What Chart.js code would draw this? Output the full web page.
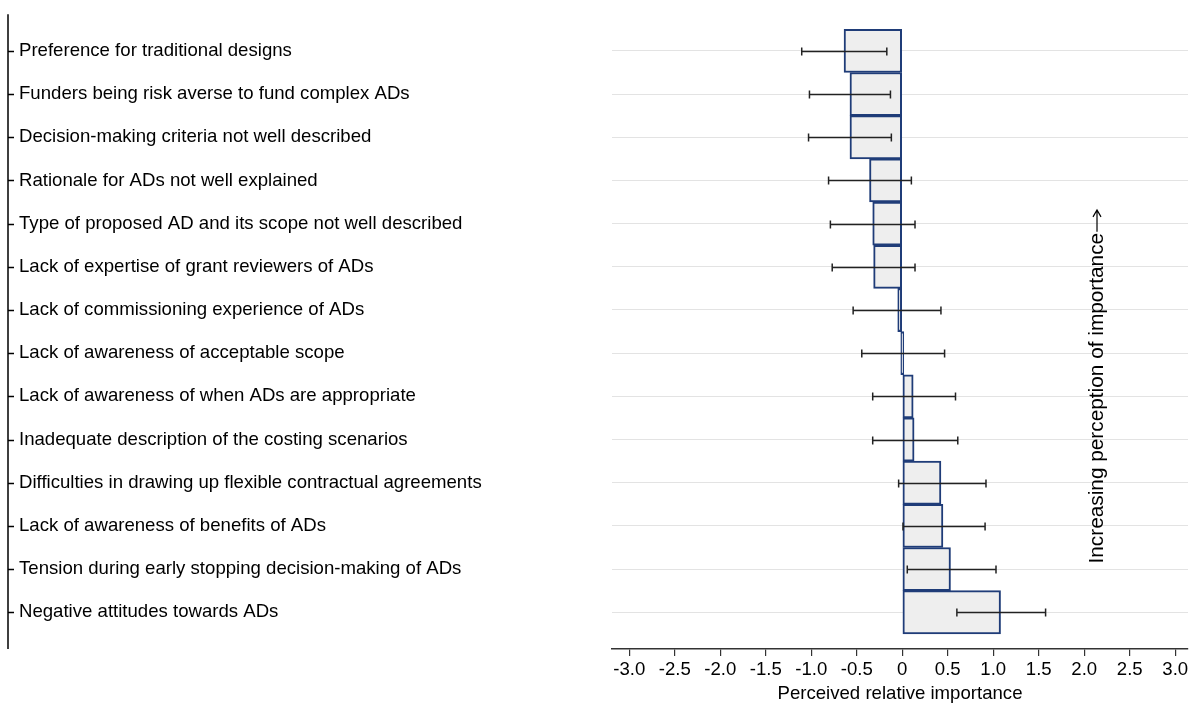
<!DOCTYPE html>
<html>
<head>
<meta charset="utf-8">
<script src="https://cdn.jsdelivr.net/npm/chart.js@4/dist/chart.umd.min.js"></script>
<style>
  html, body { margin: 0; padding: 0; background: #fff; }
</style>
</head>
<body>
<canvas id="barriersChart" width="1192" height="707"></canvas>
<script>
const barriers = [
    'Preference for traditional designs',
    'Funders being risk averse to fund complex ADs',
    'Decision-making criteria not well described',
    'Rationale for ADs not well explained',
    'Type of proposed AD and its scope not well described',
    'Lack of expertise of grant reviewers of ADs',
    'Lack of commissioning experience of ADs',
    'Lack of awareness of acceptable scope',
    'Lack of awareness of when ADs are appropriate',
    'Inadequate description of the costing scenarios',
    'Difficulties in drawing up flexible contractual agreements',
    'Lack of awareness of benefits of ADs',
    'Tension during early stopping decision-making of ADs',
    'Negative attitudes towards ADs'
];
const importance = [-0.64, -0.575, -0.575, -0.36, -0.325, -0.315, -0.05, 0, 0.12, 0.13, 0.425, 0.447, 0.53, 1.08];
const ciLower = [-1.105, -1.02, -1.03, -0.81, -0.79, -0.77, -0.54, -0.445, -0.325, -0.325, -0.04, 0.008, 0.055, 0.6];
const ciUpper = [-0.17, -0.13, -0.12, 0.10, 0.14, 0.14, 0.425, 0.465, 0.585, 0.61, 0.92, 0.91, 1.03, 1.575];
const xTicks = [-3, -2.5, -2, -1.5, -1, -0.5, 0, 0.5, 1, 1.5, 2, 2.5, 3];

const FONT = "'Liberation Sans', Arial, sans-serif";

// confidence interval whiskers
const errorBars = {
    id: 'errorBars',
    afterDatasetsDraw(chart) {
        const { ctx, scales: { x, y } } = chart;
        ctx.save();
        ctx.strokeStyle = '#222';
        ctx.lineWidth = 1.5;
        importance.forEach((_, i) => {
            const py = Math.round(y.getPixelForValue(i + 1)) + 0.5;
            const x1 = x.getPixelForValue(ciLower[i]);
            const x2 = x.getPixelForValue(ciUpper[i]);
            ctx.beginPath();
            ctx.moveTo(x1, py); ctx.lineTo(x2, py);
            ctx.moveTo(x1, py - 4); ctx.lineTo(x1, py + 4);
            ctx.moveTo(x2, py - 4); ctx.lineTo(x2, py + 4);
            ctx.stroke();
        });
        ctx.restore();
    }
};

// left axis line with ticks, sitting before the category labels
const leftAxis = {
    id: 'leftAxis',
    afterDraw(chart) {
        const { ctx, scales: { y } } = chart;
        const ax = y.left - 11;
        ctx.save();
        ctx.strokeStyle = '#000';
        ctx.lineWidth = 1.5;
        ctx.beginPath();
        ctx.moveTo(ax, y.top);
        ctx.lineTo(ax, y.bottom);
        y.ticks.forEach(t => {
            const py = Math.round(y.getPixelForValue(t.value)) + 0.5;
            ctx.moveTo(ax, py);
            ctx.lineTo(ax + 6, py);
        });
        ctx.stroke();
        ctx.restore();
    }
};

// rotated note with an arrow pointing upwards
const directionNote = {
    id: 'directionNote',
    afterDraw(chart) {
        const { ctx, scales: { x, y } } = chart;
        const px = x.getPixelForValue(2.14);
        const py = y.getPixelForValue(12.87);
        const text = 'Increasing perception of importance';
        ctx.save();
        ctx.translate(px, py);
        ctx.rotate(-Math.PI / 2);
        ctx.font = `20.8px ${FONT}`;
        ctx.fillStyle = '#000';
        ctx.textAlign = 'left';
        ctx.textBaseline = 'middle';
        ctx.fillText(text, 0, 0);
        const w = ctx.measureText(text).width;
        ctx.strokeStyle = '#000';
        ctx.lineWidth = 1.2;
        ctx.beginPath();
        ctx.moveTo(w + 1, 0);
        ctx.lineTo(w + 23, 0);
        ctx.moveTo(w + 16, -4);
        ctx.lineTo(w + 23, 0);
        ctx.lineTo(w + 16, 4);
        ctx.stroke();
        ctx.restore();
    }
};

new Chart(document.getElementById('barriersChart'), {
    type: 'bar',
    data: {
        datasets: [{
            data: importance.map((v, i) => ({ x: v, y: i + 1 })),
            backgroundColor: '#eeeeee',
            borderColor: '#1f3c78',
            borderWidth: 2,
            borderSkipped: false,
            minBarLength: 3,
            barPercentage: 1,
            categoryPercentage: 1
        }]
    },
    options: {
        indexAxis: 'y',
        responsive: false,
        animation: false,
        layout: { padding: { left: 19, right: 4, top: 12, bottom: 0 } },
        plugins: {
            legend: { display: false },
            tooltip: { enabled: false }
        },
        scales: {
            x: {
                type: 'linear',
                min: -3.19,
                max: 3.14,
                afterBuildTicks: scale => { scale.ticks = xTicks.map(v => ({ value: v })); },
                afterFit: scale => { scale.height = 58; },
                ticks: {
                    autoSkip: false,
                    maxRotation: 0,
                    padding: 3,
                    color: '#000',
                    font: { family: FONT, size: 18.6 },
                    callback: v => v === 0 ? '0' : v.toFixed(1)
                },
                grid: { drawOnChartArea: false, drawTicks: true, tickLength: 7, color: '#333', lineWidth: 1.2 },
                border: { display: true, color: '#333', width: 1.5 },
                title: {
                    display: true,
                    text: 'Perceived relative importance',
                    color: '#000',
                    font: { family: FONT, size: 18.6 },
                    padding: { top: 0, bottom: 2 }
                }
            },
            y: {
                type: 'linear',
                reverse: true,
                min: 0.15,
                max: 14.85,
                offset: false,
                afterBuildTicks: scale => { scale.ticks = barriers.map((_, i) => ({ value: i + 1 })); },
                afterFit: scale => { scale.width = 593; },
                ticks: {
                    autoSkip: false,
                    crossAlign: 'far',
                    color: '#000',
                    font: { family: FONT, size: 18.6 },
                    callback: v => barriers[v - 1]
                },
                grid: { offset: false, drawTicks: false, color: '#e3e3e3', lineWidth: 1 },
                border: { display: false }
            }
        }
    },
    plugins: [errorBars, leftAxis, directionNote]
});
</script>
</body>
</html>
